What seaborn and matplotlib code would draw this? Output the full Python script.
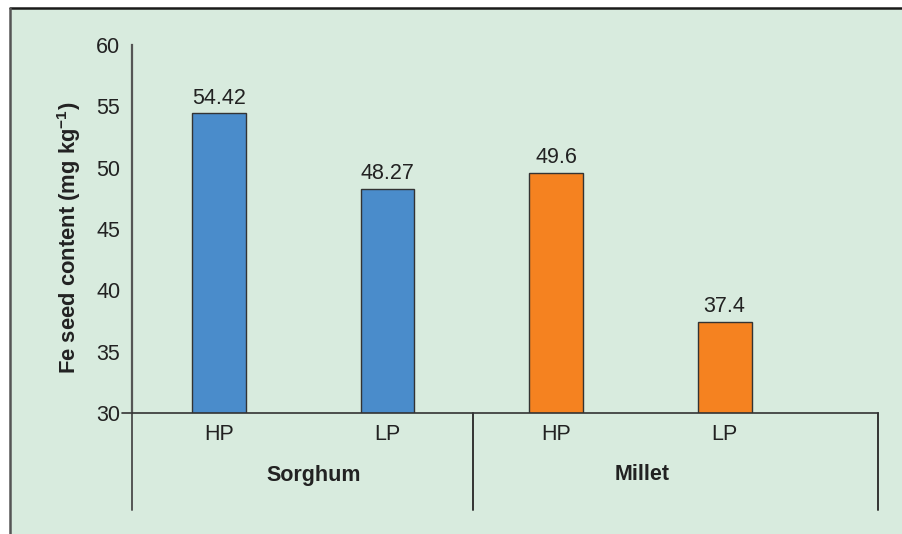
import matplotlib
matplotlib.use("Agg")
import matplotlib.pyplot as plt
import seaborn as sns
import pandas as pd
from matplotlib.patches import Rectangle
from matplotlib.lines import Line2D

crops = ["Sorghum", "Sorghum", "Millet", "Millet"]
levels = ["HP", "LP", "HP", "LP"]
values = [54.42, 48.27, 49.6, 37.4]
value_labels = ["54.42", "48.27", "49.6", "37.4"]
group_names = ["Sorghum", "Millet"]
yticks = [30, 35, 40, 45, 50, 55, 60]

BG = "#d8ebde"
BLUE = "#4a8ccb"
ORANGE = "#f58220"

sns.set_theme(style="white")
plt.rcParams["font.family"] = ["Liberation Sans", "DejaVu Sans"]

df = pd.DataFrame({"pos": [str(i) for i in range(len(values))],
                   "crop": crops, "level": levels, "value": values})

fig = plt.figure(figsize=(9.03, 5.34), dpi=100)
fig.patch.set_facecolor("white")
fig.add_artist(Rectangle((10/903, 0), 1, 1 - 8/534, transform=fig.transFigure,
                         facecolor=BG, edgecolor="none", zorder=-10))
fig.add_artist(Line2D([10/903, 1], [1 - 8/534, 1 - 8/534], transform=fig.transFigure,
                      color="#1a1a1a", lw=1.8, zorder=-5))
fig.add_artist(Line2D([10/903, 10/903], [0, 1 - 8/534], transform=fig.transFigure,
                      color="#555555", lw=1.8, zorder=-5))

ax = fig.add_axes([132/903, 1 - 413/534, (878 - 132)/903, (413 - 45)/534])
ax.set_facecolor("none")
ax.set_zorder(1)

palette = {"Sorghum": BLUE, "Millet": ORANGE}
sns.barplot(data=df, x="pos", y="value", hue="crop", palette=palette, dodge=False,
            saturation=1, width=0.32, edgecolor="#333333", linewidth=1.0, ax=ax,
            legend=False)
ax.set_ylim(30, 60)
ax.set_xlim(-0.516, 3.91)
ax.set_yticks(yticks)
ax.set_yticklabels([str(t) for t in yticks], fontsize=15.5, color="#222222")
ax.tick_params(axis="y", length=0, pad=8.5, left=False)
ax.tick_params(axis="x", length=0, pad=8)
ax.set_xticks(range(len(levels)))
ax.set_xticklabels(levels, fontsize=15.5, color="#222222")
ax.set_xlabel("")
ax.set_ylabel("Fe seed content (mg kg$^{\\mathregular{-1}}$)", fontsize=15.8, fontweight="bold",
              color="#222222")
ax.yaxis.set_label_coords(-0.066, 0.4755)

for s in ["top", "right"]:
    ax.spines[s].set_visible(False)
ax.spines["left"].set_color("#555555")
ax.spines["left"].set_linewidth(1.6)
ax.spines["bottom"].set_color("#333333")
ax.spines["bottom"].set_linewidth(1.2)

for i, (v, lab) in enumerate(zip(values, value_labels)):
    ax.text(i, v + 0.4, lab, ha="center", va="bottom", fontsize=15.5, color="#222222")

tr = ax.get_xaxis_transform()
ax.add_line(Line2D([-0.516 - 10/168.5, -0.516], [0, 0], transform=tr, color="#333333",
                   lw=1.2, clip_on=False))
ybot = (413 - 510) / 368
for xv, c in [(-0.516, "#555555"), (1.507, "#333333"), (3.91, "#333333")]:
    ax.add_line(Line2D([xv, xv], [0, ybot], transform=tr, color=c, lw=1.4, clip_on=False))

ygrp = (413 - 475) / 368
for gx, name in zip([0.56, 2.51], group_names):
    ax.text(gx, ygrp, name, transform=tr, ha="center", va="center", fontsize=15.5,
            fontweight="bold", color="#222222")

fig.savefig("out.png", dpi=100, facecolor=fig.get_facecolor())
